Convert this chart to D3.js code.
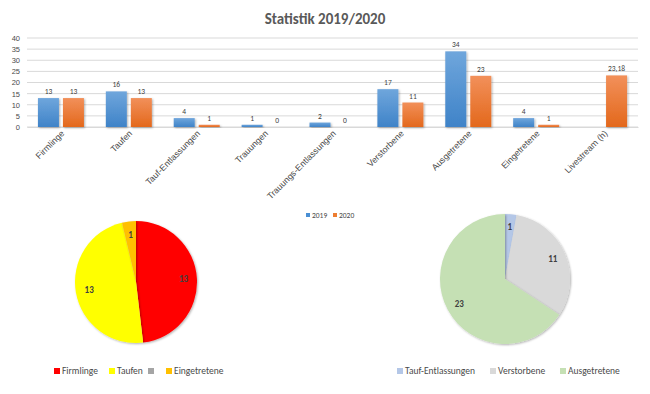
<!DOCTYPE html>
<html><head><meta charset="utf-8">
<script src="https://cdn.jsdelivr.net/npm/d3@7"></script>
<style>body{margin:0;background:#fff}svg{display:block;font-family:Calibri,Carlito,"Liberation Sans",sans-serif}</style>
</head><body><svg id="c" width="650" height="394"></svg>
<script>
const categories = ["Firmlinge","Taufen","Tauf-Entlassungen","Trauungen","Trauungs-Entlassungen","Verstorbene","Ausgetretene","Eingetretene","Livestream (h)"];
const values2019 = [13,16,4,1,2,17,34,4,null];
const values2020 = [13,13,1,0,0,11,23,1,23.18];
const yTicks = [0,5,10,15,20,25,30,35,40];
const seriesNames = ["2019","2020"];

const pie1Labels = ["Firmlinge","Taufen","","Eingetretene"];
const pie1Values = [13,13,0,1];
const pie1Colors = ["#FF0000","#FFFF00","#A5A5A5","#FFC000"];
const pie2Labels = ["Tauf-Entlassungen","Verstorbene","Ausgetretene"];
const pie2Values = [1,11,23];
const pie2Colors = ["#B4C7E7","#D9D9D9","#C5E0B4"];

const svg = d3.select("#c");
const txt = "#4a4a4a";
const defs = svg.append("defs");
function grad(id,c1,c2){const g=defs.append("linearGradient").attr("id",id).attr("x1",0).attr("x2",0).attr("y1",0).attr("y2",1);
 g.append("stop").attr("offset","0%").attr("stop-color",c1);g.append("stop").attr("offset","100%").attr("stop-color",c2);}
grad("gb","#6FA6DC","#3F83C8");grad("go","#F2905A","#E3681C");
const f = defs.append("filter").attr("id","sh").attr("x","-20%").attr("y","-20%").attr("width","140%").attr("height","140%");
f.append("feDropShadow").attr("dx",1).attr("dy",1).attr("stdDeviation",1.2).attr("flood-color","#000").attr("flood-opacity",0.3);

svg.append("text").attr("x",325).attr("y",24).attr("text-anchor","middle").attr("font-size",15).attr("font-weight","bold").attr("fill","#595959").text("Statistik 2019/2020");

const x = d3.scaleBand().domain(categories).range([27,638]);
const y = d3.scaleLinear().domain([0,40]).range([127,38]);
const g = svg.append("g");
g.selectAll(".grid").data(yTicks).join("line").attr("x1",27).attr("x2",638).attr("y1",d=>y(d)).attr("y2",d=>y(d)).attr("stroke","#D9D9D9").attr("stroke-width",1);
const yAxis = d3.axisLeft(y).tickValues(yTicks).tickSize(0).tickPadding(7);
const ya = g.append("g").attr("transform","translate(27,0)").call(yAxis);
ya.select(".domain").remove();
ya.selectAll("text").attr("font-size",7.5).attr("fill",txt).attr("font-family","inherit");
const xAxis = d3.axisBottom(x).tickSize(0).tickPadding(0);
const xa = g.append("g").attr("transform","translate(0,127)").call(xAxis);
xa.select(".domain").attr("stroke","#D9D9D9");
xa.selectAll("text").attr("font-size",8.8).attr("fill",txt).attr("font-family","inherit")
  .attr("text-anchor","end").attr("dy",0).attr("transform","translate(4,7) rotate(-45)");

const bw = 21, gap = 4;
const series = [{vals:values2019,fill:"url(#gb)",off:-gap/2-bw},{vals:values2020,fill:"url(#go)",off:gap/2}];
series.forEach(s=>{
  const data = categories.map((c,i)=>({c,v:s.vals[i]})).filter(d=>d.v!==null);
  g.selectAll(null).data(data).join("rect")
   .attr("x",d=>x(d.c)+x.bandwidth()/2+s.off).attr("width",bw)
   .attr("y",d=>y(d.v)).attr("height",d=>y(0)-y(d.v)).attr("fill",s.fill).attr("filter","url(#sh)");
  g.selectAll(null).data(data).join("text")
   .attr("x",d=>x(d.c)+x.bandwidth()/2+s.off+bw/2).attr("y",d=>y(d.v)-4)
   .attr("text-anchor","middle").attr("font-size",7.5).attr("fill","#404040")
   .text(d=>String(d.v).replace(".",","));
});
const lg = svg.append("g");
[[seriesNames[0],"#4A8FD4",306],[seriesNames[1],"#ED7D31",333]].forEach(([t,c,xx])=>{
  lg.append("rect").attr("x",xx).attr("y",213).attr("width",4).attr("height",4).attr("fill",c);
  lg.append("text").attr("x",xx+6).attr("y",218).attr("font-size",7.5).attr("fill",txt).text(t);
});

function drawPie(cx,cy,r,vals,cols,labelPos,rot){
  const pie = d3.pie().sort(null).value(d=>d)(vals);
  const arc = d3.arc().innerRadius(0).outerRadius(r);
  const pg = svg.append("g").attr("transform",`translate(${cx},${cy})`);
  pg.selectAll("path").data(pie).join("path").attr("d",arc).attr("fill",(d,i)=>cols[i]).attr("filter","url(#sh)");
  const la = d3.arc().innerRadius(r*labelPos).outerRadius(r*labelPos);
  pg.selectAll("text").data(pie.filter(d=>d.value>0)).join("text")
    .attr("transform",d=>`translate(${la.centroid(d)})`).attr("text-anchor","middle").attr("dy","0.35em")
    .attr("font-size",9).attr("font-weight","bold").attr("fill","#404040").text(d=>d.value);
}
drawPie(136,282,61,pie1Values,pie1Colors,0.78);
drawPie(505,279,65,pie2Values,pie2Colors,0.8);

function legend(items,cols,xs,yy){
  items.forEach((t,i)=>{
    svg.append("rect").attr("x",xs[i]).attr("y",yy-6).attr("width",6).attr("height",6).attr("fill",cols[i]);
    svg.append("text").attr("x",xs[i]+8).attr("y",yy).attr("font-size",9.5).attr("fill",txt).text(t);
  });
}
legend(pie1Labels,pie1Colors,[54,109,148,166],374);
legend(pie2Labels,pie2Colors,[397,490,560],374);
</script></body></html>
